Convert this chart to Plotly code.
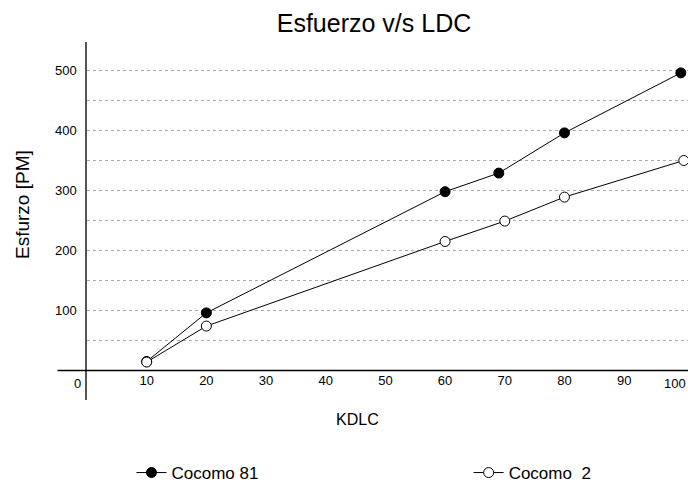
import plotly.graph_objects as go

# Data
kdlc_81 = [10, 20, 60, 69, 80, 99.5]
esf_81 = [15, 96, 298, 329, 396, 496]
kdlc_2 = [10, 20, 60, 70, 80, 100]
esf_2 = [14, 74, 215, 249, 289, 350]
x_ticks = [10, 20, 30, 40, 50, 60, 70, 80, 90, 100]
y_ticks = [100, 200, 300, 400, 500]

FONT = "Liberation Sans, Arial, sans-serif"

fig = go.Figure()
fig.add_trace(go.Scatter(
    x=kdlc_81, y=esf_81, mode="lines+markers", name="Cocomo 81", legend="legend",
    line=dict(color="black", width=1),
    marker=dict(symbol="circle", size=10, color="black", line=dict(color="black", width=1)),
    cliponaxis=False,
))
fig.add_trace(go.Scatter(
    x=kdlc_2, y=esf_2, mode="lines+markers", name="Cocomo  2", legend="legend2",
    line=dict(color="black", width=1),
    marker=dict(symbol="circle", size=10, color="white", line=dict(color="black", width=1)),
    cliponaxis=False,
))

# last tick label is placed as right-aligned text so it stays inside the page
tick_text = [str(v) for v in x_ticks[:-1]] + [""]

fig.update_layout(
    width=688, height=484,
    margin=dict(l=87, r=0, t=42, b=84, autoexpand=False),
    paper_bgcolor="white", plot_bgcolor="white",
    font=dict(family=FONT, color="black", size=13),
    title=dict(text="Esfuerzo v/s LDC", x=374 / 688, xanchor="center", xref="container",
               y=1 - 23 / 484, yanchor="middle", yref="container",
               font=dict(size=25, family=FONT, color="black")),
    xaxis=dict(range=[0, 100.7], tickvals=x_ticks, ticktext=tick_text, showgrid=False,
               zeroline=False, showline=False, ticks="", anchor="free", position=29.5 / 358,
               tickfont=dict(size=13), fixedrange=True, automargin=False),
    yaxis=dict(range=[-49.2, 547.5], tickvals=y_ticks, showgrid=True,
               gridcolor="#aaaaaa", griddash="dot", gridwidth=1,
               minor=dict(dtick=50, tick0=0, showgrid=True, gridcolor="#aaaaaa",
                          griddash="dot", gridwidth=1),
               zeroline=False, showline=True, linecolor="#555555", linewidth=1.5,
               ticks="", ticklabelstandoff=6, tickfont=dict(size=13), automargin=False,
               fixedrange=True),
    legend=dict(orientation="h", x=0.074, xanchor="left", y=(400 - 473) / 358,
                yanchor="middle", font=dict(size=17, family=FONT), bgcolor="rgba(0,0,0,0)"),
    legend2=dict(orientation="h", x=0.635, xanchor="left", y=(400 - 473) / 358,
                 yanchor="middle", font=dict(size=17, family=FONT), bgcolor="rgba(0,0,0,0)"),
    showlegend=True,
)

# horizontal baseline at y=0 extending left of the vertical axis
fig.add_shape(type="line", xref="paper", yref="y", x0=-0.049, x1=1, y0=0, y1=0,
              line=dict(color="black", width=1.5), layer="above")

fig.add_annotation(text="0", x=0, y=0, xref="x", yref="y", xanchor="right", yanchor="top",
                   xshift=-4, yshift=-4, showarrow=False, font=dict(size=13, family=FONT))
fig.add_annotation(text=str(x_ticks[-1]), x=1, xref="paper", y=0, yref="y",
                   xanchor="right", yanchor="top", yshift=-4, showarrow=False,
                   font=dict(size=13, family=FONT))
fig.add_annotation(text="KDLC", xref="paper", yref="paper", x=(357 - 87) / 601,
                   y=(400 - 419) / 358, xanchor="center", yanchor="middle",
                   showarrow=False, font=dict(size=16, family=FONT))
fig.add_annotation(text="Esfurzo [PM]", xref="paper", yref="paper", x=(22 - 87) / 601,
                   y=(400 - 205) / 358, xanchor="center", yanchor="middle", textangle=-90,
                   showarrow=False, font=dict(size=19, family=FONT))

fig.write_html("out.html", config={"displayModeBar": False},
               post_script="document.body.style.margin='0';document.body.style.overflow='hidden';")
